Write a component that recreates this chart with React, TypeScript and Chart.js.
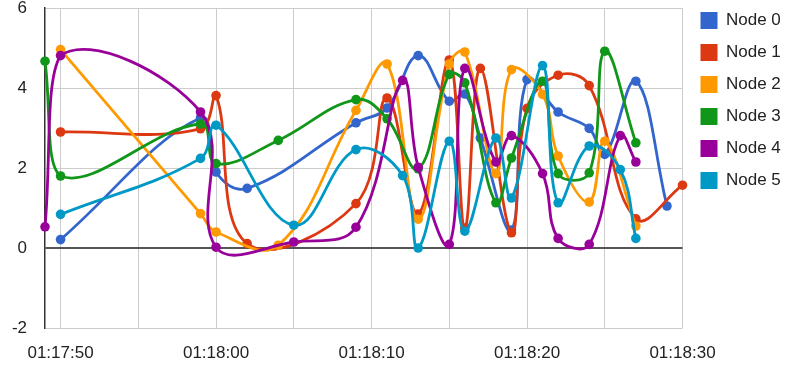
import React, { useEffect, useRef } from 'react';
import { Chart, registerables } from 'chart.js';

Chart.register(...registerables);

const seriesNames = ['Node 0', 'Node 1', 'Node 2', 'Node 3', 'Node 4', 'Node 5'];
const seriesColors = ['#3366cc', '#dc3912', '#ff9900', '#109618', '#990099', '#0099c6'];

const node0Times = ['01:17:50', '01:17:59', '01:18:00', '01:18:02', '01:18:09', '01:18:11', '01:18:13', '01:18:15', '01:18:16', '01:18:17', '01:18:19', '01:18:20', '01:18:22', '01:18:24', '01:18:25', '01:18:27', '01:18:29'];
const node0Values = [0.21, 3.25, 1.9, 1.49, 3.13, 3.5, 4.81, 3.67, 3.85, 2.75, 0.45, 4.21, 3.4, 2.99, 2.34, 4.17, 1.05];

const node1Times = ['01:17:50', '01:17:59', '01:18:00', '01:18:02', '01:18:09', '01:18:11', '01:18:13', '01:18:15', '01:18:16', '01:18:17', '01:18:19', '01:18:20', '01:18:22', '01:18:24', '01:18:27', '01:18:30'];
const node1Values = [2.9, 2.98, 3.81, 0.11, 1.11, 3.75, 0.85, 4.7, 0.5, 4.49, 0.38, 3.49, 4.32, 4.06, 0.73, 1.57];

const node2Times = ['01:17:50', '01:17:59', '01:18:00', '01:18:04', '01:18:09', '01:18:11', '01:18:13', '01:18:15', '01:18:16', '01:18:18', '01:18:19', '01:18:21', '01:18:22', '01:18:24', '01:18:25', '01:18:27'];
const node2Values = [4.96, 0.86, 0.4, 0.07, 3.44, 4.6, 0.72, 4.6, 4.9, 1.86, 4.46, 3.84, 2.3, 1.15, 2.67, 0.55];

const node3Times = ['01:17:49', '01:17:50', '01:17:59', '01:18:00', '01:18:04', '01:18:09', '01:18:11', '01:18:13', '01:18:15', '01:18:16', '01:18:18', '01:18:19', '01:18:21', '01:18:22', '01:18:24', '01:18:25', '01:18:27'];
const node3Values = [4.67, 1.8, 3.1, 2.11, 2.69, 3.71, 3.23, 1.98, 4.34, 4.13, 1.13, 2.25, 4.17, 1.86, 1.88, 4.92, 2.63];

const node4Times = ['01:17:49', '01:17:50', '01:17:59', '01:18:00', '01:18:05', '01:18:09', '01:18:12', '01:18:13', '01:18:15', '01:18:16', '01:18:18', '01:18:19', '01:18:21', '01:18:22', '01:18:24', '01:18:26', '01:18:27'];
const node4Values = [0.53, 4.81, 3.4, 0.02, 0.15, 0.52, 4.19, 2.02, 0.09, 4.49, 2.15, 2.81, 1.86, 0.24, 0.09, 2.81, 2.15];

const node5Times = ['01:17:50', '01:17:59', '01:18:00', '01:18:05', '01:18:09', '01:18:12', '01:18:13', '01:18:15', '01:18:16', '01:18:18', '01:18:19', '01:18:21', '01:18:22', '01:18:24', '01:18:26', '01:18:27'];
const node5Values = [0.84, 2.24, 3.07, 0.57, 2.46, 1.81, 0.0, 2.67, 0.42, 2.75, 1.25, 4.56, 1.13, 2.55, 1.96, 0.24];

const xRangeStart = '01:17:49';
const xRangeEnd = '01:18:30';
const xGridTimes = ['01:17:50', '01:17:55', '01:18:00', '01:18:05', '01:18:10', '01:18:15', '01:18:20', '01:18:25', '01:18:30'];
const xTickLabels = ['01:17:50', '01:18:00', '01:18:10', '01:18:20', '01:18:30'];

const yMin = -2;
const yMax = 6;
const yStep = 2;

const seriesTimes = [node0Times, node1Times, node2Times, node3Times, node4Times, node5Times];
const seriesValues = [node0Values, node1Values, node2Values, node3Values, node4Values, node5Values];

const toSec = (t: string) => {
  const [h, m, s] = t.split(':').map(Number);
  return h * 3600 + m * 60 + s;
};
const fmt = (v: number) => {
  const h = Math.floor(v / 3600);
  const m = Math.floor((v % 3600) / 60);
  const s = Math.round(v % 60);
  const p = (n: number) => String(n).padStart(2, '0');
  return `${p(h)}:${p(m)}:${p(s)}`;
};

const FONT = '"Liberation Sans", Arial, Helvetica, sans-serif';

const legendNudge = {
  id: 'legendNudge',
  afterLayout(chart: any) {
    const lg = chart.legend;
    if (!lg) return;
    const dx = 3;
    const dy = -11;
    lg.left += dx;
    lg.right += dx;
    lg.top += dy;
    lg.bottom += dy;
  },
};

export default function App() {
  const canvasRef = useRef<HTMLCanvasElement | null>(null);

  useEffect(() => {
    if (!canvasRef.current) return;
    const datasets = seriesNames.map((name, i) => ({
      label: name,
      data: seriesTimes[i].map((t, j) => ({ x: toSec(t), y: seriesValues[i][j] })),
      borderColor: seriesColors[i],
      backgroundColor: seriesColors[i],
      pointBackgroundColor: seriesColors[i],
      pointBorderWidth: 0,
      pointRadius: 4.8,
      borderWidth: 2.8,
      tension: 0.4,
      clip: false as any,
      order: seriesNames.length - 1 - i,
    }));

    const chart = new Chart(canvasRef.current, {
      type: 'line',
      data: { datasets },
      plugins: [legendNudge],
      options: {
        animation: false,
        responsive: false,
        devicePixelRatio: 1,
        layout: { padding: { left: 0, top: 8, right: 0, bottom: 0 } },
        plugins: {
          tooltip: { enabled: false },
          legend: {
            position: 'right',
            align: 'start',
            maxWidth: 102.5,
            labels: {
              boxWidth: 17,
              boxHeight: 17,
              padding: 15,
              color: '#222',
              font: { family: FONT, size: 17 },
              sort: (a: any, b: any) => a.datasetIndex - b.datasetIndex,
              generateLabels: (c: any) =>
                (Chart.defaults.plugins.legend.labels.generateLabels as any)(c).map((l: any) => ({
                  ...l,
                  lineWidth: 0,
                  fillStyle: seriesColors[l.datasetIndex],
                })),
            },
          },
        },
        scales: {
          x: {
            type: 'linear',
            min: toSec(xRangeStart),
            max: toSec(xRangeEnd),
            afterBuildTicks: (axis: any) => {
              axis.ticks = xGridTimes.map((t) => ({ value: toSec(t) }));
            },
            afterFit: (scale: any) => {
              scale.height = 42;
              scale.paddingLeft = 0;
              scale.paddingRight = 0;
            },
            ticks: {
              autoSkip: false,
              maxRotation: 0,
              padding: 15,
              color: '#222',
              font: { family: FONT, size: 17 },
              callback: (v: any) => {
                const s = fmt(Number(v));
                return xTickLabels.includes(s) ? s : '';
              },
            },
            grid: { color: '#cccccc', lineWidth: 1, drawTicks: false },
            border: { display: false },
          },
          y: {
            type: 'linear',
            min: yMin,
            max: yMax,
            afterFit: (scale: any) => {
              scale.width = 45;
              scale.paddingTop = 0;
              scale.paddingBottom = 0;
            },
            ticks: {
              stepSize: yStep,
              padding: 18,
              color: '#222',
              font: { family: FONT, size: 17 },
            },
            grid: {
              color: (ctx: any) => (ctx.tick && ctx.tick.value === 0 ? '#555555' : '#cccccc'),
              lineWidth: (ctx: any) => (ctx.tick && ctx.tick.value === 0 ? 2 : 1),
              drawTicks: false,
            },
            border: { display: true, color: '#333333', width: 1.5 },
          },
        },
      },
    });
    return () => chart.destroy();
  }, []);

  return (
    <div style={{ position: 'fixed', left: 0, top: 0, width: 785, height: 370, background: '#fff' }}>
      <canvas ref={canvasRef} width={785} height={370} style={{ display: 'block' }} />
    </div>
  );
}
